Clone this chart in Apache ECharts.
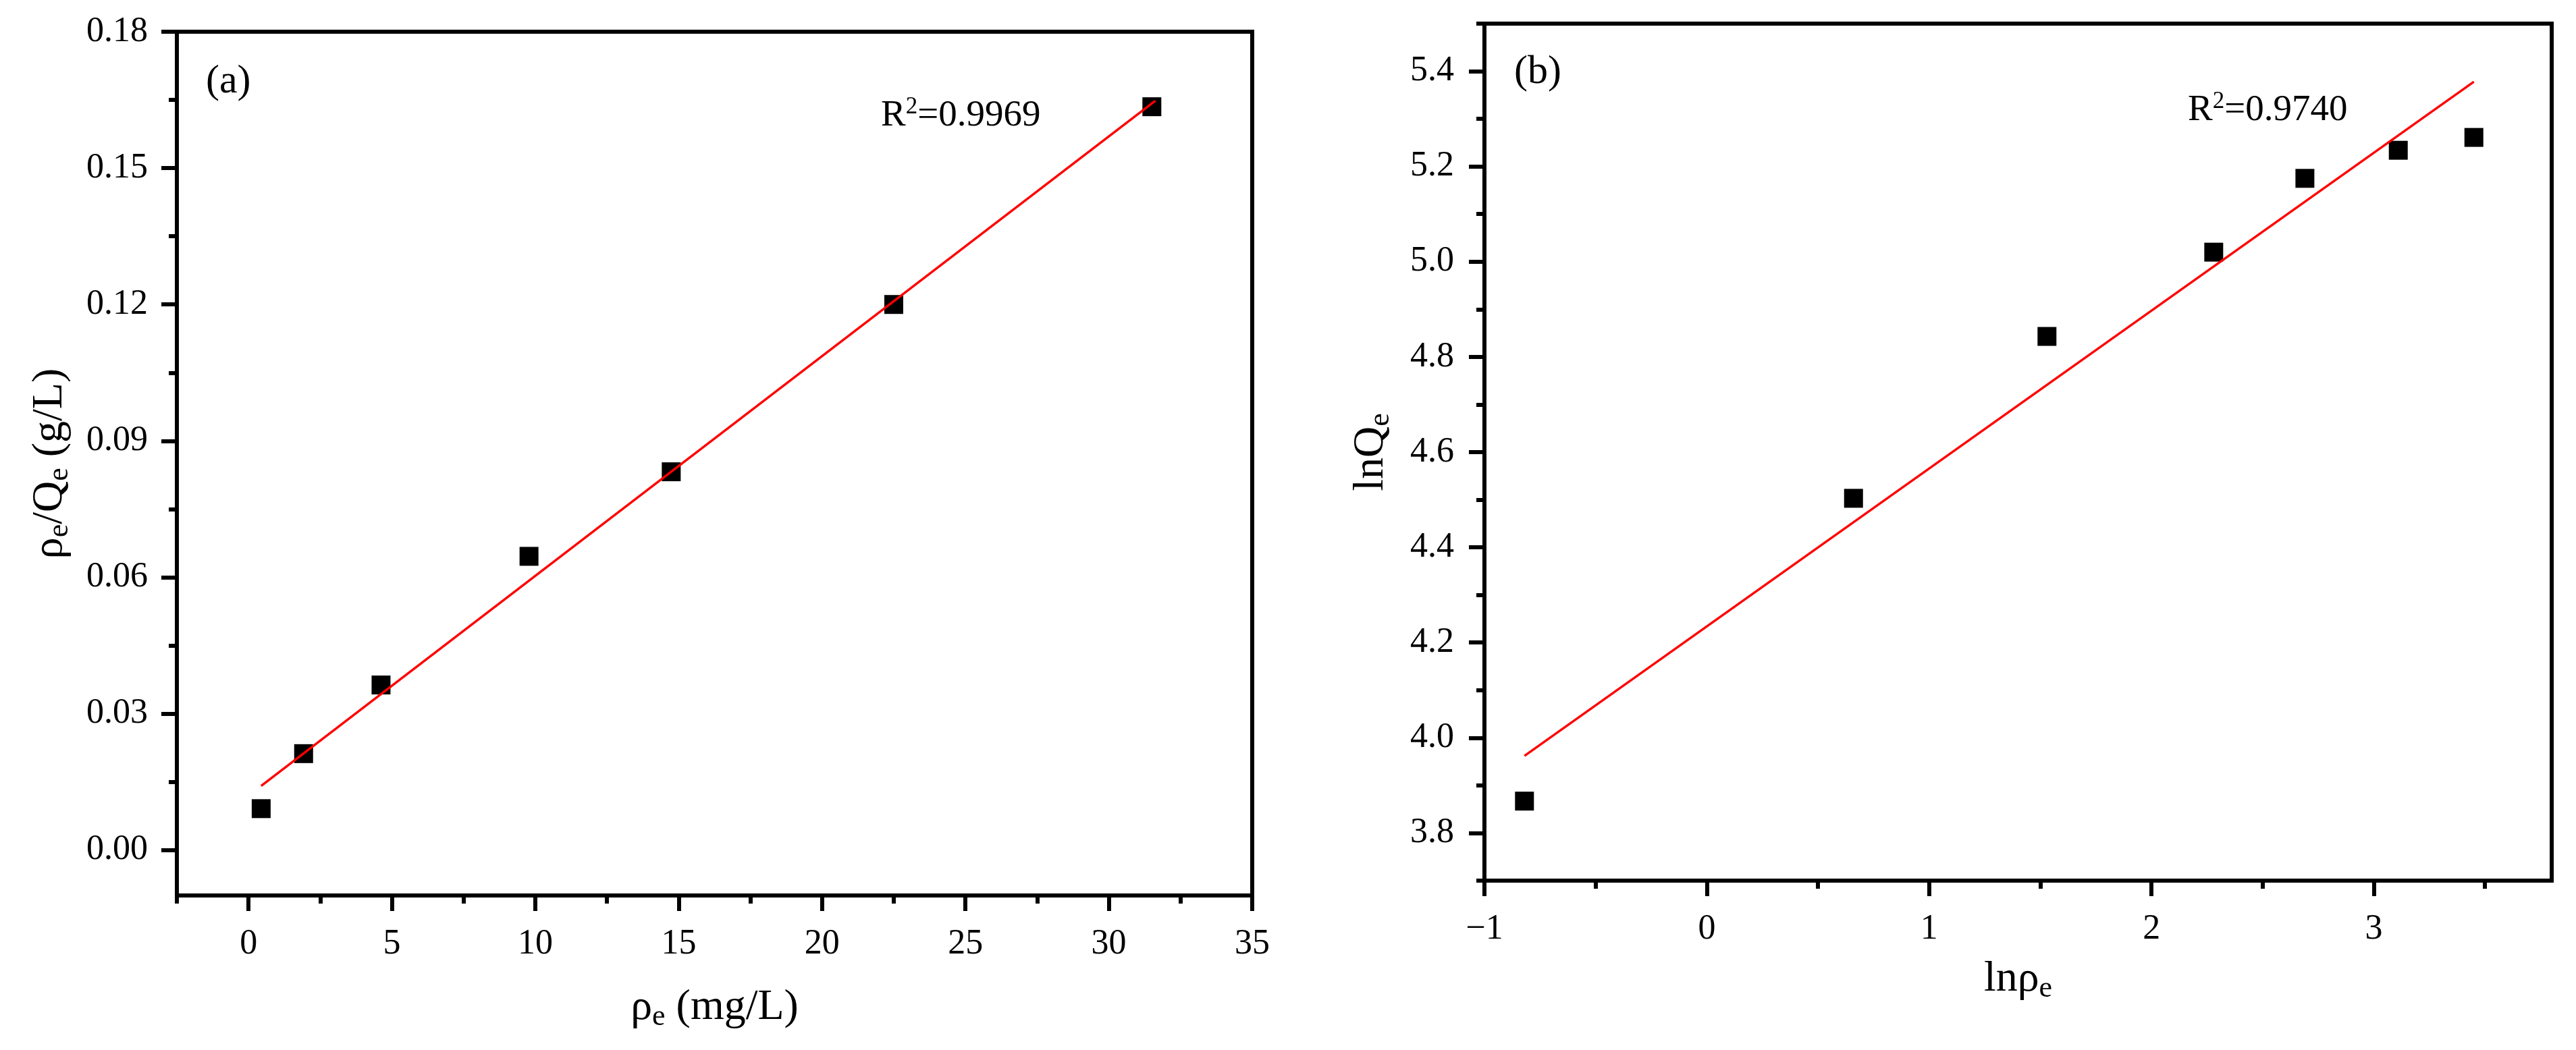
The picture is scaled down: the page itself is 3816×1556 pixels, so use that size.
<!DOCTYPE html>
<html>
<head>
    <meta charset="utf-8">
    <title>Langmuir / Freundlich fit</title>
    <script src="https://cdn.jsdelivr.net/npm/echarts@6/dist/echarts.min.js"></script>
    <style>
        html, body { margin: 0; padding: 0; background: #fff; }
        #chart { width: 3816px; height: 1556px; }
    </style>
</head>
<body>
<div id="chart"></div>

<script type="text/javascript">
    // (a) Langmuir: rho_e vs rho_e/Q_e
    var ceA = [0.44, 1.92, 4.62, 9.78, 14.74, 22.5, 31.5];
    var ratioA = [0.0091, 0.0212, 0.0363, 0.0646, 0.0832, 0.1200, 0.1635];
    var fitAx = [0.44, 31.62];
    var fitAy = [0.0141, 0.1648];
    var xLabelsA = [0, 5, 10, 15, 20, 25, 30, 35];
    var xMinorA = [-2.5, 2.5, 7.5, 12.5, 17.5, 22.5, 27.5, 32.5];
    var yLabelsA = [0, 0.03, 0.06, 0.09, 0.12, 0.15, 0.18];
    var yMinorA = [0.015, 0.045, 0.075, 0.105, 0.135, 0.165];

    // (b) Freundlich: ln rho_e vs ln Q_e
    var lnCe = [-0.82, 0.66, 1.53, 2.28, 2.69, 3.11, 3.45];
    var lnQe = [3.867, 4.503, 4.843, 5.020, 5.175, 5.234, 5.261];
    var fitBx = [-0.82, 3.45];
    var fitBy = [3.962, 5.378];
    var xLabelsB = [-1, 0, 1, 2, 3];
    var xMinorB = [-0.5, 0.5, 1.5, 2.5, 3.5];
    var yLabelsB = [3.8, 4.0, 4.2, 4.4, 4.6, 4.8, 5.0, 5.2, 5.4];
    var yMinorB = [3.7, 3.9, 4.1, 4.3, 4.5, 4.7, 4.9, 5.1, 5.3, 5.5];

    var FONT = '"Liberation Serif", "Times New Roman", serif';

    function pairs(xs, ys) {
        var out = [];
        for (var i = 0; i < xs.length; i++) out.push([xs[i], ys[i]]);
        return out;
    }

    // small line height + bottom align pushes the "e" below the baseline
    var nameRich = {
        m: { fontFamily: FONT, fontSize: 64, color: '#000', lineHeight: 72 },
        s: { fontFamily: FONT, fontSize: 44, color: '#000', lineHeight: 30, verticalAlign: 'bottom' }
    };
    var noteRich = {
        r: { fontFamily: FONT, fontSize: 55, color: '#000', lineHeight: 62 },
        p: { fontFamily: FONT, fontSize: 35, color: '#000', lineHeight: 34, verticalAlign: 'top' }
    };

    function mainAxis(grid, min, max, labels, fmt, margin, name, gap) {
        return {
            type: 'value', gridIndex: grid, min: min, max: max,
            axisLine: { show: true, onZero: false, lineStyle: { color: '#000', width: 6 } },
            axisTick: { show: true, inside: false, length: 23, customValues: labels,
                        lineStyle: { color: '#000', width: 6 } },
            axisLabel: { customValues: labels, formatter: fmt, margin: margin,
                         fontFamily: FONT, fontSize: 52, color: '#000' },
            splitLine: { show: false },
            name: name, nameLocation: 'middle', nameGap: gap,
            nameTextStyle: { fontFamily: FONT, fontSize: 64, color: '#000', rich: nameRich }
        };
    }
    function minorAxis(grid, min, max, ticks) {
        return {
            type: 'value', gridIndex: grid, min: min, max: max, offset: 0,
            axisLine: { show: false, onZero: false },
            axisTick: { show: true, inside: false, length: 12, customValues: ticks,
                        lineStyle: { color: '#000', width: 6 } },
            axisLabel: { show: false },
            splitLine: { show: false }
        };
    }
    function minusFmt(v) { return v < 0 ? '\u2212' + Math.abs(v) : String(v); }

    var xA = mainAxis(0, -2.5, 35, xLabelsA, minusFmt, 46, '{m|ρ}{s|e}{m| (mg/L)}', 130);
    var xA2 = minorAxis(0, -2.5, 35, xMinorA);
    var yA = mainAxis(0, -0.01, 0.18, yLabelsA, function (v) { return v.toFixed(2); }, 43,
        '{m|ρ}{s|e}{m|/Q}{s|e}{m| (g/L)}', 152);
    var yA2 = minorAxis(0, -0.01, 0.18, yMinorA);
    var xB = mainAxis(1, -1, 3.8, xLabelsB, minusFmt, 46, '{m|lnρ}{s|e}', 110);
    var xB2 = minorAxis(1, -1, 3.8, xMinorB);
    var yB = mainAxis(1, 3.7, 5.5, yLabelsB, function (v) { return v.toFixed(1); }, 45,
        '{m|lnQ}{s|e}', 132);
    var yB2 = minorAxis(1, 3.7, 5.5, yMinorB);
    xA.position = xA2.position = xB.position = xB2.position = 'bottom';
    yA.position = yA2.position = yB.position = yB2.position = 'left';

    var chart = echarts.init(document.getElementById('chart'));
    var option = {
        backgroundColor: '#fff',
        animation: false,
        title: [
            { text: '(a)', left: 300, top: 86, textStyle: { fontFamily: FONT, fontSize: 60, fontWeight: 'normal', color: '#000' } },
            { text: '{r|R}{p|2}{r|=0.9969}', left: 1300, top: 136, textStyle: { fontSize: 55, fontWeight: 'normal', rich: noteRich } },
            { text: '(b)', left: 2238, top: 72, textStyle: { fontFamily: FONT, fontSize: 60, fontWeight: 'normal', color: '#000' } },
            { text: '{r|R}{p|2}{r|=0.9740}', left: 3236, top: 128, textStyle: { fontSize: 55, fontWeight: 'normal', rich: noteRich } }
        ],
        grid: [
            { left: 262, top: 47, width: 1593, height: 1280, show: true, borderColor: '#000', borderWidth: 6 },
            { left: 2199, top: 35, width: 1581, height: 1270, show: true, borderColor: '#000', borderWidth: 6 }
        ],
        xAxis: [xA, xA2, xB, xB2],
        yAxis: [yA, yA2, yB, yB2],
        series: [
            { type: 'line', xAxisIndex: 0, yAxisIndex: 0, data: pairs(fitAx, fitAy), showSymbol: false,
              lineStyle: { color: '#ff0000', width: 3.5 }, z: 3 },
            { type: 'scatter', xAxisIndex: 0, yAxisIndex: 0, data: pairs(ceA, ratioA), symbol: 'rect',
              symbolSize: 28, itemStyle: { color: '#000', opacity: 1 }, z: 2 },
            { type: 'line', xAxisIndex: 2, yAxisIndex: 2, data: pairs(fitBx, fitBy), showSymbol: false,
              lineStyle: { color: '#ff0000', width: 3.5 }, z: 3 },
            { type: 'scatter', xAxisIndex: 2, yAxisIndex: 2, data: pairs(lnCe, lnQe), symbol: 'rect',
              symbolSize: 28, itemStyle: { color: '#000', opacity: 1 }, z: 2 }
        ]
    };
    chart.setOption(option);
</script>
</body>
</html>
